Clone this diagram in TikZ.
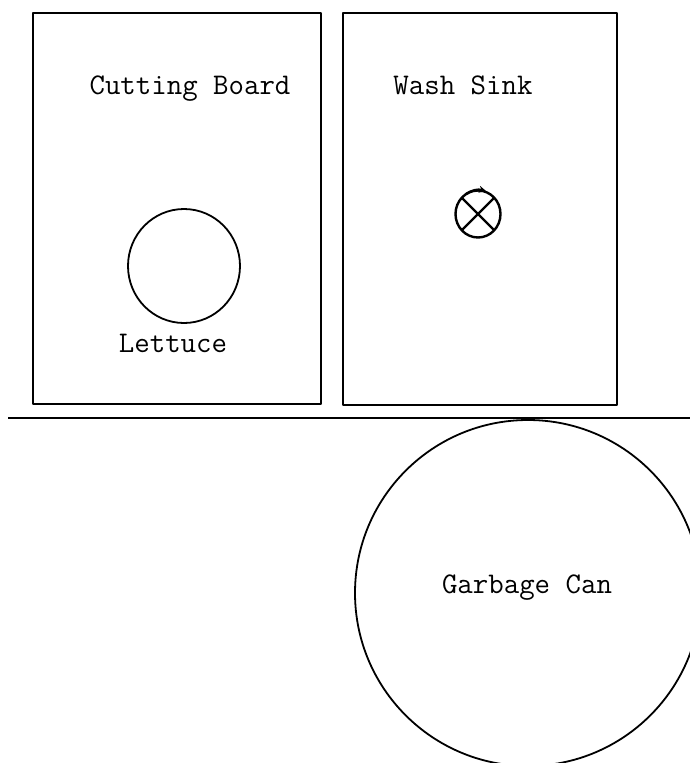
\documentclass[tikz,border=0pt]{standalone}
\usetikzlibrary{arrows.meta}
\begin{document}
\begin{tikzpicture}[x=1pt,y=-1pt, line width=1.8pt, line join=round,
  lbl/.style={font=\fontsize{30}{36}\selectfont\ttfamily, inner sep=0pt, anchor=base}]
\useasboundingbox (0,0) rectangle (690,763);
\clip (0,0) rectangle (690,763);
% counters
\draw (33,13) rectangle (321,404);
\draw (343,13) rectangle (617,405);
\draw (8,418) -- (690,418);
% lettuce
\coordinate (lettuce) at (184,266);
\draw (lettuce) ellipse[x radius=56, y radius=57];
% sink drain
\coordinate (sink) at (478,214);
\begin{scope}[line width=2.4pt]
\draw (sink) ellipse[x radius=22.5, y radius=23.5];
\draw (sink) ++(-16,-16) -- ++(32,32);
\draw (sink) ++(16,-16) -- ++(-32,32);
\draw[-{Stealth[length=7pt,width=7pt]}] (466,194) .. controls (472,190) and (478,189) .. (486,191);
\end{scope}
% garbage can
\coordinate (can) at (528,593);
\draw (can) circle[radius=173];
% labels
\node[lbl] (cb) at (190,94) {Cutting Board};
\node[lbl] (let) at (173,352) {Lettuce};
\node[lbl] (ws) at (463,94) {Wash Sink};
\node[lbl] (gc) at (527,593) {Garbage Can};
\end{tikzpicture}
\end{document}
